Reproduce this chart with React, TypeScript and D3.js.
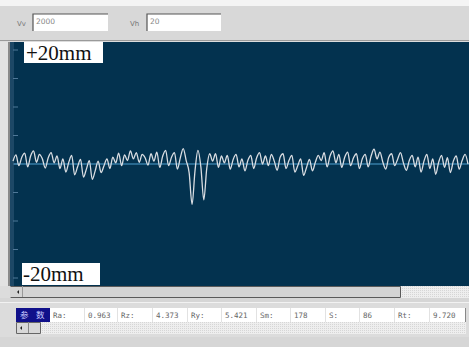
import React from "react";
import * as d3 from "d3";

const W = 469;
const H = 347;

// profile heights (mm), sampled evenly along the trace
const profile: number[] = [
  0.5, 1.6, -0.3, 1.2, 1.9, -0.5, 1.4, 2.3, 0.3, 1.7, 0.9, -0.7, 1.1, 2.0, 0.2, 1.4, -0.8,
  0.9, -1.4, 0.3, 1.5, -1.9, -0.5, 0.8, -2.3, -0.9, 0.6, -2.7, -1.2, 0.5, -1.5, -0.3, 0.9,
  -0.8, 1.2, 0.2, 1.9, -0.3, 1.6, 0.6, 2.3, 0.9, 2.0, 0.3, 1.7, 1.1,
  -0.2, 1.8, 0.5, 2.1, -0.6, 1.4, 2.4, -0.3, 1.2, 2.0, -0.9, 1.1, 2.7, 0.6,
  -1.5, -7.1, -1.2, 2.4, -0.5, -6.3, -0.8, 1.8,
  0.5, 1.8, -0.6, 1.4, 0.2, 1.5, -0.9, 0.8, 1.7, -0.5, 0.9, -1.2, 0.6, 1.5, -0.8, 1.1, 2.0, 0.0,
  1.4, -0.3, 1.7, 0.5, -1.1, 1.2, 1.8, -0.8, 0.6, 1.5, -1.4, -0.3, 0.9, -2.0, -0.6, 0.8, -1.2,
  0.3, 1.5, 0.6, 2.0, -0.5, 1.4, 2.3, 0.2, 1.7, -0.6, 1.2, 2.1, -0.3, 1.1, 1.8, -0.8, 0.9,
  1.7, -0.5, 1.4, 2.6, 0.9, 2.1, 0.3, -0.9, 1.2, 1.8, -0.3, 0.8, 2.0, 0.2, -1.1, 0.6,
  1.5, -0.5, 1.2, -1.4, 0.5, 1.7, -0.8, 0.9, -1.8, 0.3, 1.5, -0.6, 1.1, -1.5, 0.5, 1.4, -0.9, 0.6, 1.7, 0.0,
];

const yTicks: number[] = [20, 15, 10, 5, 0, -5, -10, -15, -20];
const rangeLabels: string[] = ["+20mm", "-20mm"];
const paramNames: string[] = ["Ra:", "Rz:", "Ry:", "Sm:", "S:", "Rt:"];
const paramValues: string[] = ["0.963", "4.373", "5.421", "178", "86", "9.720"];
const inputLabels: string[] = ["Vv", "Vh"];
const inputValues: string[] = ["2000", "20"];

const NAVY = "#03324f";

export default function App() {
  const plot = { left: 10, right: 469, top: 42, bottom: 286 };
  const x = d3.scaleLinear().domain([0, profile.length - 1]).range([13, 468]);
  const y = d3.scaleLinear().domain([-20, 20]).range([278, 50]);
  const line = d3
    .line<number>()
    .x((_, i) => x(i))
    .y((d) => y(d))
    .curve(d3.curveMonotoneX);

  const cellStarts = [50, 85, 118, 153, 188, 222, 257, 291, 326, 360, 395, 430];
  const cellTexts: string[] = [];
  paramNames.forEach((n, i) => {
    cellTexts.push(n);
    cellTexts.push(paramValues[i]);
  });

  return (
    <svg
      width={W}
      height={H}
      style={{ position: "absolute", left: 0, top: 0, display: "block" }}
    >
      <defs>
        <pattern id="dots" width="2" height="2" patternUnits="userSpaceOnUse">
          <rect width="2" height="2" fill="#eeeeee" />
          <rect width="1" height="1" fill="#d6d6d6" />
        </pattern>
      </defs>
      {/* overall background */}
      <rect x={0} y={0} width={W} height={H} fill="#dcdcdc" />
      {/* top toolbar */}
      <rect x={0} y={0} width={W} height={6} fill="#f4f4f4" />
      <rect x={0} y={6} width={W} height={35} fill="#d8d8d8" />
      {inputLabels.map((lab, i) => {
        const bx = i === 0 ? 33 : 147;
        const lx = i === 0 ? 17 : 130;
        const bw = i === 0 ? 75 : 74;
        return (
          <g key={lab}>
            <text x={lx} y={26} fontSize={7} fill="#777" fontFamily="DejaVu Sans">
              {lab}
            </text>
            <rect x={bx} y={14} width={bw} height={17} fill="#ffffff" />
            <path d={`M${bx},${31}V${14}H${bx + bw}`} stroke="#555" strokeWidth={1.2} fill="none" />
            <text x={bx + 3} y={24} fontSize={7.5} fill="#888" fontFamily="DejaVu Sans">
              {inputValues[i]}
            </text>
          </g>
        );
      })}
      <line x1={0} x2={W} y1={40.5} y2={40.5} stroke="#9a9a9a" />

      {/* plot area */}
      <rect x={0} y={plot.top} width={9} height={plot.bottom - plot.top} fill="#e2e2e2" />
      <rect x={plot.left - 2} y={plot.top} width={2} height={plot.bottom - plot.top} fill="#8a8a8a" />
      <rect
        x={plot.left}
        y={plot.top}
        width={plot.right - plot.left}
        height={plot.bottom - plot.top}
        fill={NAVY}
      />
      <rect x={plot.left} y={plot.top} width={4} height={plot.bottom - plot.top} fill="#1d4866" />
      {yTicks.map((t) => (
        <line
          key={t}
          x1={13}
          x2={18}
          y1={y(t)}
          y2={y(t)}
          stroke="#4f7898"
          strokeWidth={1}
        />
      ))}
      {/* centre line */}
      <line x1={14} x2={plot.right} y1={y(0)} y2={y(0)} stroke="#4f9fd2" strokeWidth={1.2} />
      {/* profile */}
      <path d={line(profile) || ""} fill="none" stroke="#d9dde2" strokeWidth={1.3} strokeLinejoin="round" />

      {/* range labels */}
      <rect x={24} y={42} width={79} height={21} fill="#ffffff" />
      <text x={26} y={60} fontSize={21} fontFamily="Liberation Serif" fill="#111">
        {rangeLabels[0]}
      </text>
      <rect x={22} y={263} width={78} height={22} fill="#ffffff" />
      <text x={23} y={281} fontSize={21} fontFamily="Liberation Serif" fill="#111">
        {rangeLabels[1]}
      </text>

      {/* horizontal scrollbar */}
      <rect x={plot.left} y={286} width={plot.right - plot.left} height={12} fill="url(#dots)" />
      <rect x={10} y={286} width={390} height={11} fill="#d4d4d4" />
      <path d="M10.5,286.5H400.5V297.5H10.5" stroke="#5a5a5a" fill="none" />
      <line x1={22.5} x2={22.5} y1={286} y2={297} stroke="#999" />
      <path d="M17,292 L19,290 L19,294 Z" fill="#222" />
      <rect x={0} y={298} width={W} height={4} fill="#d6d6d6" />
      <line x1={0} x2={W} y1={302.5} y2={302.5} stroke="#f2f2f2" />

      {/* parameter table */}
      <rect x={16} y={308} width={34} height={14} fill="#10108a" />
      <text x={20} y={318} fontSize={8.5} fill="#c8c8ff" fontFamily="Noto Sans CJK SC">
        参
      </text>
      <text x={36} y={318} fontSize={8.5} fill="#c8c8ff" fontFamily="Noto Sans CJK SC">
        数
      </text>
      <rect x={50} y={308} width={416} height={14} fill="#ffffff" />
      {cellStarts.map((cx, i) => (
        <g key={i}>
          {i > 0 && <line x1={cx - 0.5} x2={cx - 0.5} y1={308} y2={322} stroke="#e2e2e2" />}
          <text
            x={cx + 3}
            y={318}
            fontSize={7.5}
            fill="#666"
            fontFamily="DejaVu Sans Mono"
          >
            {cellTexts[i]}
          </text>
        </g>
      ))}
      <line x1={465.5} x2={465.5} y1={308} y2={322} stroke="#888" />
      <rect x={16} y={322} width={450} height={12} fill="url(#dots)" />
      <rect x={16} y={322} width={25} height={11} fill="#d8d8d8" />
      <path d="M16.5,322.5H40.5V333.5H16.5Z" stroke="#666" fill="none" />
      <line x1={28.5} x2={28.5} y1={322} y2={333} stroke="#888" />
      <path d="M20,328 L22,326 L22,330 Z" fill="#222" />
      <rect x={0} y={337} width={W} height={10} fill="#d6d6d6" />
    </svg>
  );
}
